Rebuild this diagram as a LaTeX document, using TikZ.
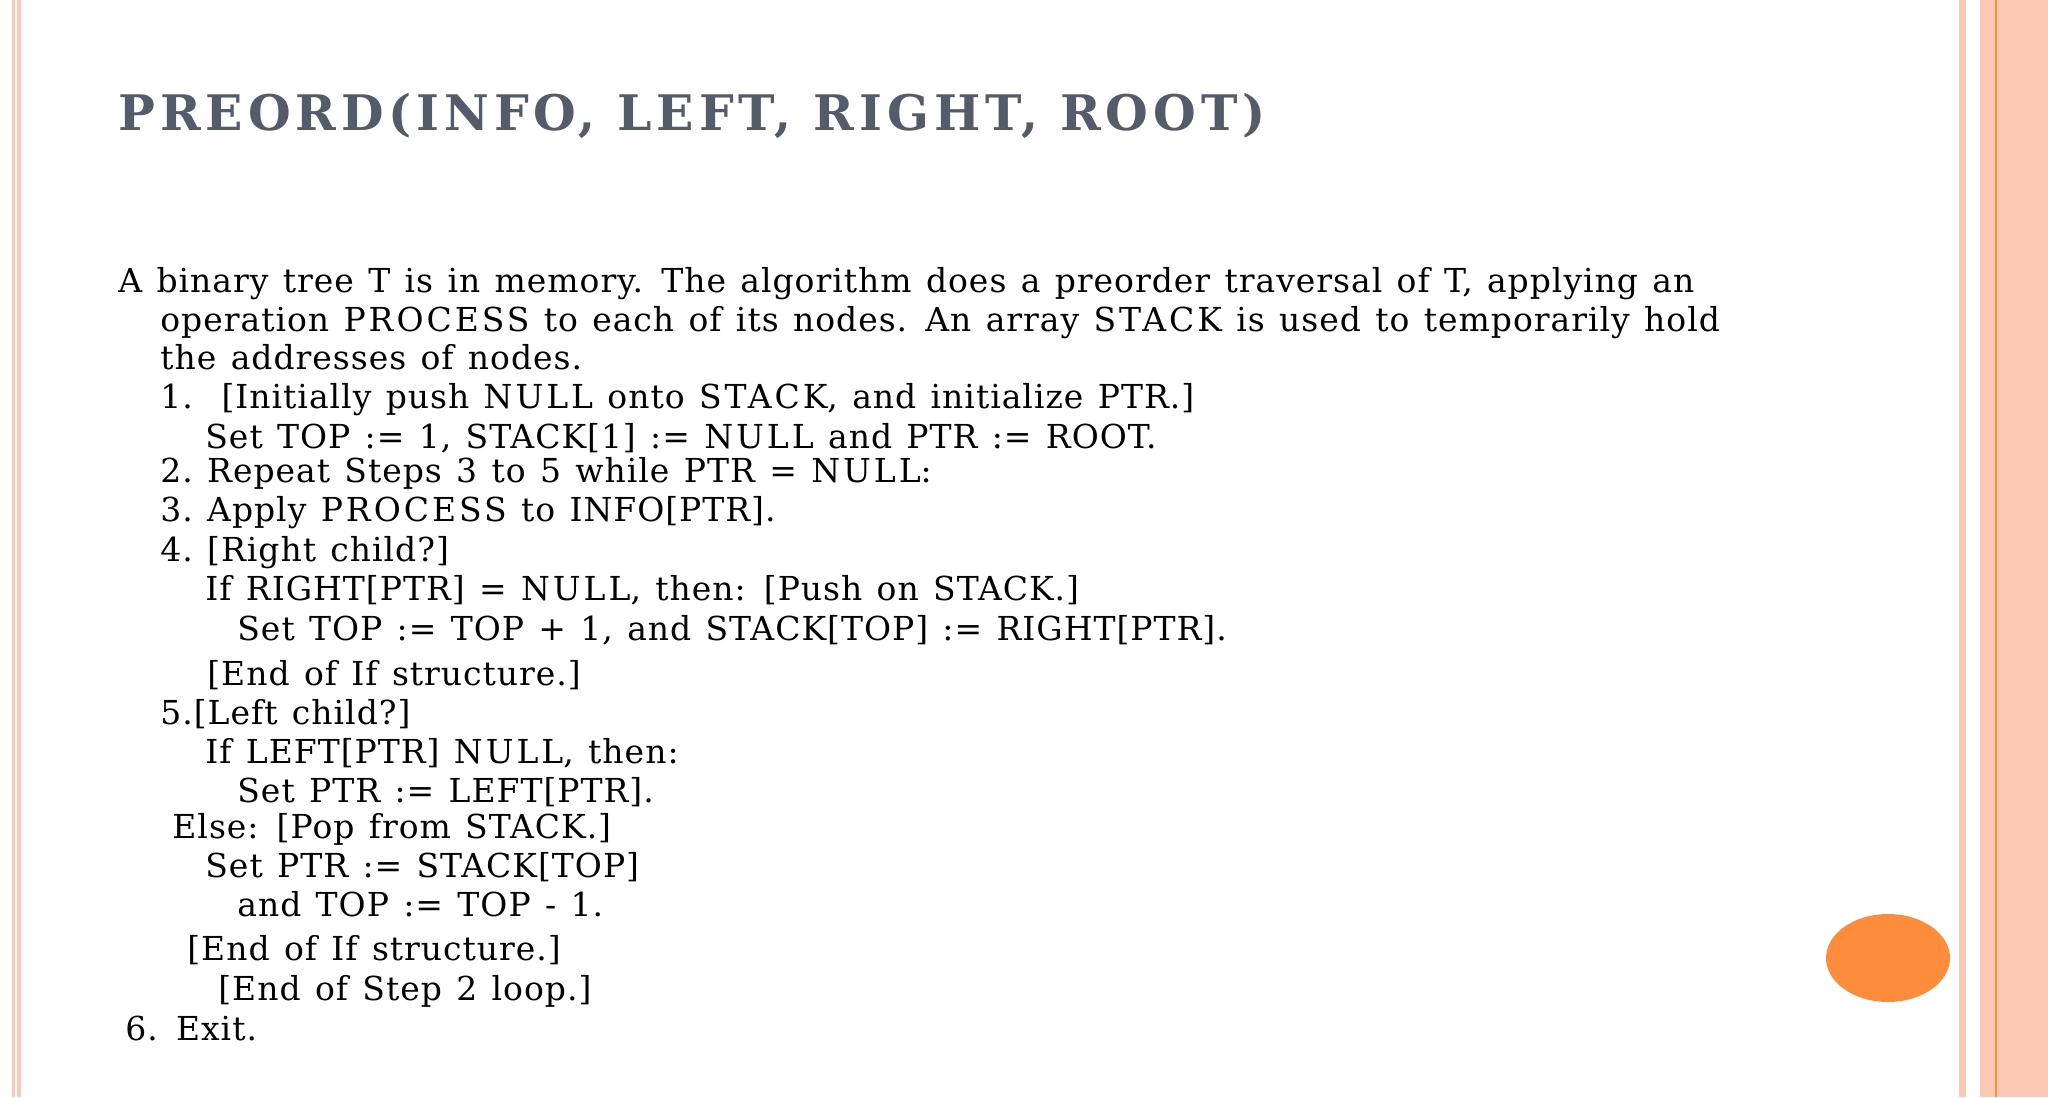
\documentclass[tikz,border=0pt]{standalone}
\usepackage{fontspec}
\setmainfont[LetterSpace=3,WordSpace=1.25]{DejaVu Serif}
\newfontfamily\titlefont[LetterSpace=10]{DejaVu Serif}
\newfontfamily\capfont[LetterSpace=9]{DejaVu Serif}
\newcommand{\cw}[1]{{\capfont #1}}
\definecolor{salmon}{HTML}{FCC9B5}
\definecolor{orng}{HTML}{FD8C3C}
\definecolor{titlec}{HTML}{565B6B}
\begin{document}
\begin{tikzpicture}[x=0.5pt,y=-0.5pt,
  ln/.style={anchor=base west,inner sep=0pt,font=\fontsize{16.5}{18}\selectfont}]
\useasboundingbox (0,0) rectangle (2048,1097);
\fill[white] (0,0) rectangle (2048,1097);
\fill[salmon] (12,0) rectangle (15,1097);
\fill[salmon] (17,0) rectangle (21,1097);
\fill[salmon] (1959,0) rectangle (1966,1097);
\fill[salmon] (1980,0) rectangle (2048,1097);
\draw[orng,line width=1pt] (1996,0) -- (1996,1097);
\fill[orng] (1888,958) ellipse (62 and 44);
\node[anchor=base west,inner sep=0pt,text=titlec,font=\titlefont\bfseries\fontsize{24.5}{28}\selectfont] (title) at (118,130) {PREORD(INFO, LEFT, RIGHT, ROOT)};
\node[ln] (l1) at (118,292) {A binary tree T is in memory. The algorithm does a preorder traversal of T, applying an};
\node[ln] (l2) at (160,331) {operation \cw{PROCESS} to each of its nodes. An array \cw{STACK} is used to temporarily hold};
\node[ln] (l3) at (160,369) {the addresses of nodes.};
\node[ln] (l4) at (160,408) {1.\ \ [Initially push \cw{NULL} onto \cw{STACK}, and initialize PTR.]};
\node[ln] (l5) at (205,448) {Set TOP := 1, STACK[1] := \cw{NULL} and PTR := ROOT.};
\node[ln] (l6) at (160,482) {2.\ Repeat Steps 3 to 5 while PTR = \cw{NULL}:};
\node[ln] (l7) at (160,521) {3.\ Apply \cw{PROCESS} to INFO[PTR].};
\node[ln] (l8) at (160,561) {4.\ [Right child?]};
\node[ln] (l9) at (205,600) {If RIGHT[PTR] = \cw{NULL}, then: [Push on STACK.]};
\node[ln] (l10) at (237,640) {Set TOP := TOP + 1, and STACK[TOP] := RIGHT[PTR].};
\node[ln] (l11) at (207,685) {[End of If structure.]};
\node[ln] (l12) at (160,724) {5.[Left child?]};
\node[ln] (l13) at (205,763) {If LEFT[PTR] \cw{NULL}, then:};
\node[ln] (l14) at (237,802) {Set PTR := LEFT[PTR].};
\node[ln] (l15) at (172,838) {Else: [Pop from STACK.]};
\node[ln] (l16) at (205,877) {Set PTR := STACK[TOP]};
\node[ln] (l17) at (237,916) {and TOP := TOP - 1.};
\node[ln] (l18) at (187,960) {[End of If structure.]};
\node[ln] (l19) at (218,1000) {[End of Step 2 loop.]};
\node[ln] (l20) at (125,1040) {6. Exit.};
\end{tikzpicture}
\end{document}
